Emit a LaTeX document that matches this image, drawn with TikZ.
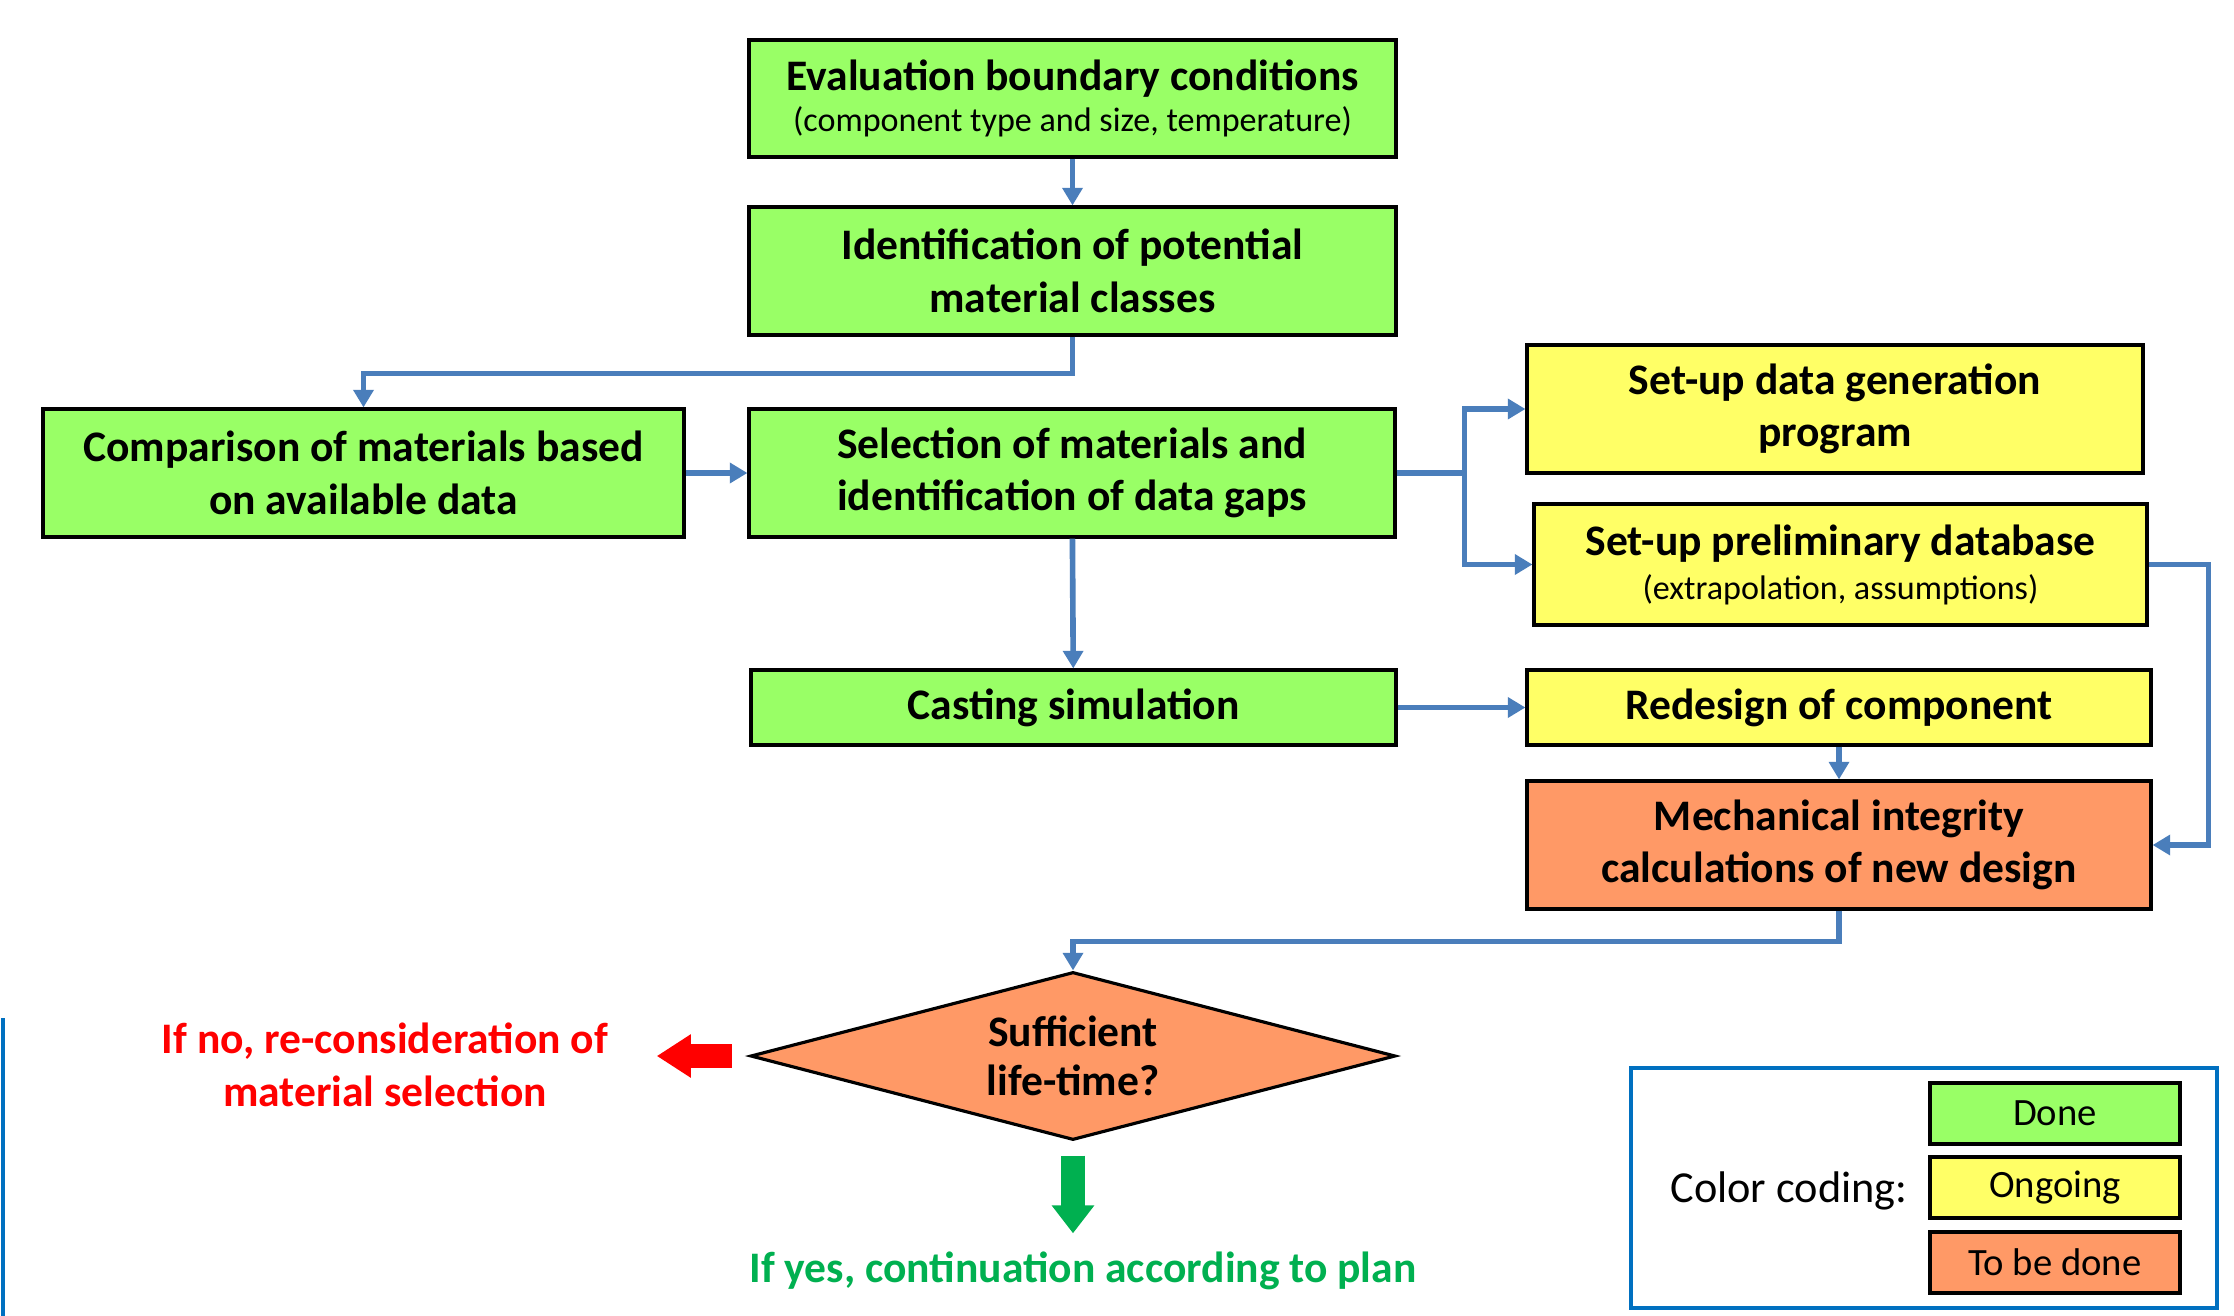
\documentclass[tikz,border=0pt]{standalone}
\usepackage{fontspec}
\setmainfont{Carlito}
\usepackage{tikz}
\usetikzlibrary{positioning, shapes, arrows.meta, calc}

\definecolor{donegreen}{HTML}{99FF66}
\definecolor{ongoingyellow}{HTML}{FFFF66}
\definecolor{todoorange}{HTML}{FF9966}
\definecolor{linkblue}{HTML}{4A7EBB}
\definecolor{frameblue}{HTML}{0070C0}
\definecolor{nored}{HTML}{FF0000}
\definecolor{yesgreen}{HTML}{00B050}

\tikzset{
  box/.style={rectangle, draw, line width=0.9pt, align=center, inner sep=0pt,
    font=\bfseries\fontsize{12.4}{15}\selectfont},
  done/.style={box, fill=donegreen},
  ongoing/.style={box, fill=ongoingyellow},
  todo/.style={box, fill=todoorange},
  keybox/.style={box, font=\fontsize{11}{13}\selectfont, minimum width=2.5cm, minimum height=0.61cm},
  link/.style={draw=linkblue, line width=1.6pt, -{Triangle[length=5pt, width=5.6pt]}},
  bigarrow/.style={line width=#1, -{Triangle[length=3.4mm, width=4.1mm]}},
}
\newcommand{\subline}[1]{{\mdseries\fontsize{9.7}{12}\selectfont #1}}

\begin{document}
\begin{tikzpicture}
                  \fill[white] (0,0) rectangle (22.34,13.15);
                  \useasboundingbox (0,0) rectangle (22.34,13.15);

                  % Nodes
                  \node[done, minimum width=6.47cm, minimum height=1.17cm] (boundary) at (10.725,12.165)
                    {Evaluation boundary conditions\\[-3.5pt]\subline{(component type and size, temperature)}};
                  \node[done, minimum width=6.47cm, minimum height=1.28cm] (classes) at (10.725,10.44)
                    {Identification of potential\\material classes};
                  \node[done, minimum width=6.41cm, minimum height=1.28cm] (comparison) at (3.635,8.42)
                    {Comparison of materials based\\on available data};
                  \node[done, minimum width=6.46cm, minimum height=1.28cm] (selection) at (10.72,8.42)
                    {Selection of materials and\\identification of data gaps};
                  \node[ongoing, minimum width=6.16cm, minimum height=1.28cm] (datagen) at (18.35,9.06)
                    {Set-up data generation\\program};
                  \node[ongoing, minimum width=6.13cm, minimum height=1.21cm] (prelim) at (18.405,7.505)
                    {Set-up preliminary database\\[-2.5pt]\subline{(extrapolation, assumptions)}};
                  \node[done, minimum width=6.45cm, minimum height=0.75cm] (casting) at (10.735,6.075)
                    {Casting simulation};
                  \node[ongoing, minimum width=6.24cm, minimum height=0.75cm] (redesign) at (18.39,6.075)
                    {Redesign of component};
                  \node[todo, minimum width=6.24cm, minimum height=1.28cm] (integrity) at (18.39,4.70)
                    {Mechanical integrity\\calculations of new design};
                  \node[diamond, draw, fill=todoorange, line width=0.9pt, inner sep=0pt, align=center,
                    aspect=3.84, minimum width=6.45cm, minimum height=1.68cm,
                    font=\bfseries\fontsize{12.4}{14}\selectfont] (lifetime) at (10.73,2.59)
                    {Sufficient\\life-time?};
                  \node[align=center, text=nored, inner sep=0pt, font=\bfseries\fontsize{12.4}{15}\selectfont]
                    (nobranch) at (3.85,2.50) {If no, re-consideration of\\material selection};
                  \node[text=yesgreen, inner sep=0pt, font=\bfseries\fontsize{12.4}{15}\selectfont]
                    (yesbranch) at (10.83,0.44) {If yes, continuation according to plan};

                  % Legend
                  \draw[frameblue, line width=1.4pt] (16.31,0.07) rectangle (22.17,2.47);
                  \node[font=\fontsize{12.6}{15}\selectfont] (legendtitle) at (17.89,1.24) {Color coding:};
                  \node[keybox, fill=donegreen] (keydone) at (20.55,2.015) {Done};
                  \node[keybox, fill=ongoingyellow] (keyongoing) at (20.55,1.275) {Ongoing};
                  \node[keybox, fill=todoorange] (keytodo) at (20.55,0.525) {To be done};
                  \draw[frameblue, line width=1.4pt] (0.03,2.97) -- (0.03,-0.2);

                  % Arrows
                  \draw[link] (boundary) -- (classes);
                  \draw[link] (classes.south) -- ++(0,-0.37) -| (comparison.north);
                  \draw[link] (comparison) -- (selection);
                  \draw[draw=linkblue, line width=1.6pt] (selection.east) -- ++(0.68,0) coordinate (fork);
                  \draw[link] (fork) |- (datagen.west);
                  \draw[link] (fork) |- (prelim.west);
                  \draw[link] (selection) -- (casting);
                  \draw[link] (casting) -- (redesign);
                  \draw[link] (redesign) -- (integrity);
                  \draw[link] (prelim.east) -- ++(0.6,0) |- (integrity.east);
                  \draw[link] (integrity.south) -- ++(0,-0.31) -| (lifetime.north);
                  \draw[nored, bigarrow=2.4mm, shorten <=1.7mm, shorten >=4.8mm] (lifetime.west) -- (nobranch.east |- lifetime.west);
                  \draw[yesgreen, bigarrow=2.4mm, -{Triangle[length=2.8mm, width=4.1mm]}, shorten <=1.4mm, shorten >=1.8mm]
                    (lifetime.south) -- (yesbranch.north -| lifetime.south);
              \end{tikzpicture}
\end{document}
